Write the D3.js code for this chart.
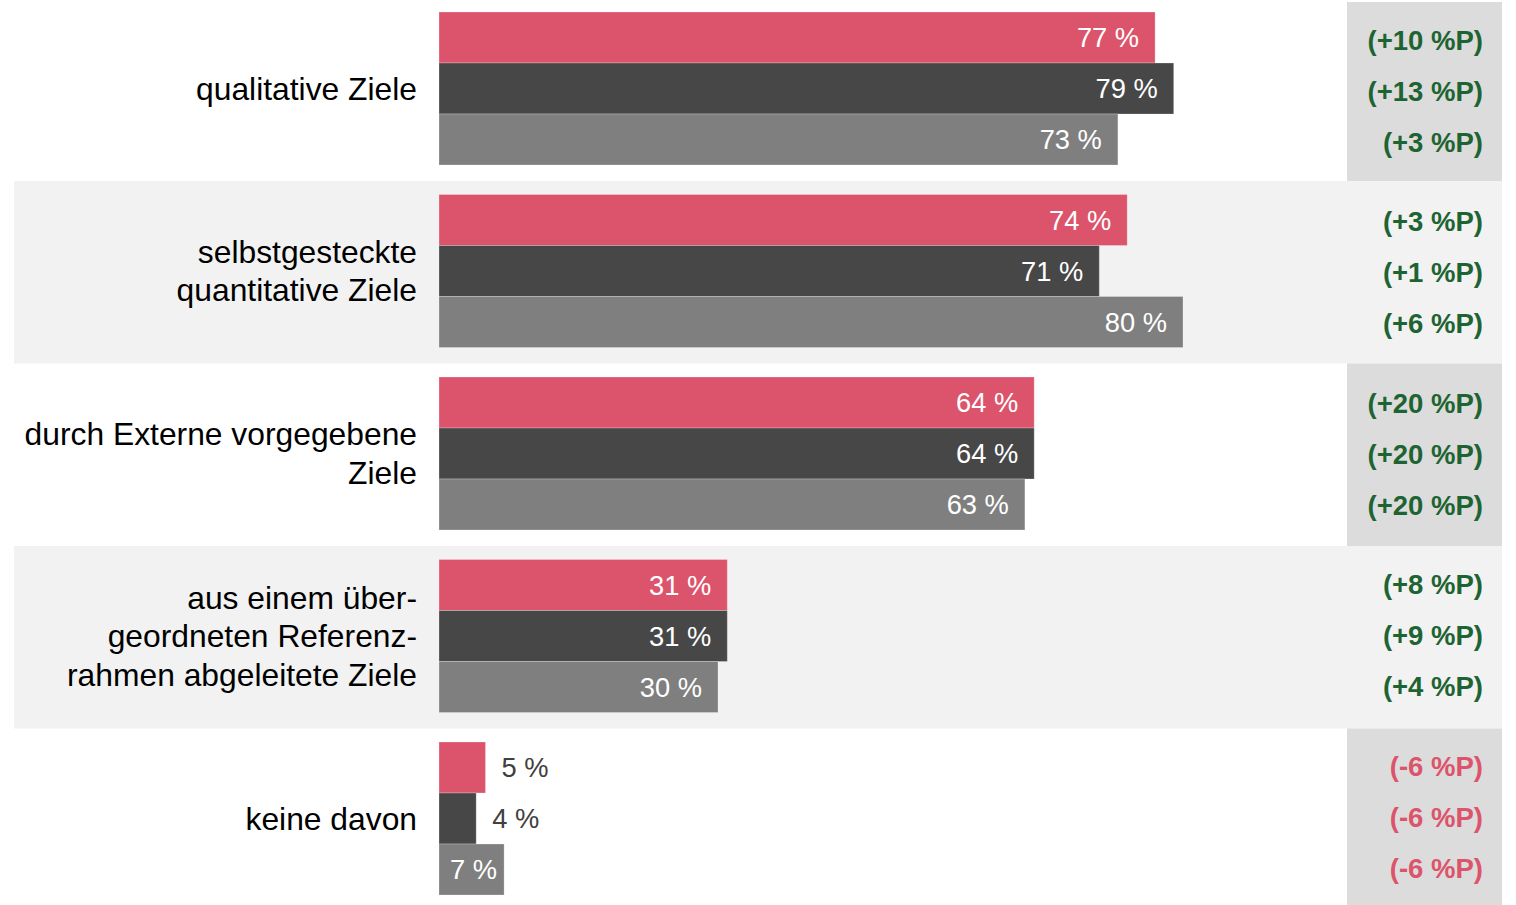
<!DOCTYPE html>
<html lang="de">
<head>
    <meta charset="UTF-8">
    <title>Ziele</title>
    <script src="https://cdnjs.cloudflare.com/ajax/libs/d3/7.8.5/d3.min.js"></script>
    <style>
        body {
            margin: 0;
            background: #fff;
            font-family: "Liberation Sans", Arial, sans-serif;
            overflow: hidden;
        }
        svg { display: block; }
    </style>
</head>
<body>
    <svg id="chart"></svg>

    <script>
        // categories (line breaks as in the original)
        const categories = [
            ["qualitative Ziele"],
            ["selbstgesteckte", "quantitative Ziele"],
            ["durch Externe vorgegebene", "Ziele"],
            ["aus einem über-", "geordneten Referenz-", "rahmen abgeleitete Ziele"],
            ["keine davon"]
        ];

        // three series, one bar each per category (values in %)
        const seriesA = [77, 74, 64, 31, 5];
        const seriesB = [79, 71, 64, 31, 4];
        const seriesC = [73, 80, 63, 30, 7];

        // change in percentage points
        const diffA = [10, 3, 20, 8, -6];
        const diffB = [13, 1, 20, 9, -6];
        const diffC = [3, 6, 20, 4, -6];

        const W = 1516, H = 905;
        const colors = ["#dc546b", "#474747", "#7f7f7f"];
        const series = [seriesA, seriesB, seriesC];
        const diffs = [diffA, diffB, diffC];

        const svg = d3.select("#chart").attr("width", W).attr("height", H);

        const idx = d3.range(categories.length);
        const y = d3.scaleBand().domain(idx).range([-1.5, 911]);
        const yInner = d3.scaleBand().domain([0, 1, 2]).range([13.5, 166.5]);
        const x = d3.scaleLinear().domain([0, 100]).range([439, 1369]);

        // alternating background bands
        svg.selectAll(".band")
            .data(idx.filter(i => i % 2 === 1))
            .enter().append("rect")
            .attr("x", 14).attr("width", 1502 - 14)
            .attr("y", i => y(i)).attr("height", y.bandwidth())
            .attr("fill", "#f2f2f2");

        // right column boxes for the other rows
        svg.selectAll(".box")
            .data(idx.filter(i => i % 2 === 0))
            .enter().append("rect")
            .attr("x", 1347).attr("width", 1502 - 1347)
            .attr("y", i => Math.max(2, y(i)))
            .attr("height", i => y(i) + y.bandwidth() - Math.max(2, y(i)))
            .attr("fill", "#dcdcdc");

        // category labels
        const lineH = 38.5;
        const cat = svg.selectAll(".cat")
            .data(idx)
            .enter().append("text")
            .attr("text-anchor", "end")
            .attr("font-size", 31.8)
            .attr("fill", "#000");
        cat.each(function (i) {
            const lines = categories[i];
            const cy = y(i) + (yInner(0) + yInner(2) + yInner.bandwidth()) / 2;
            d3.select(this).selectAll("tspan")
                .data(lines)
                .enter().append("tspan")
                .attr("x", 417)
                .attr("y", (d, k) => cy + (k - (lines.length - 1) / 2) * lineH)
                .attr("dy", "0.35em")
                .text(d => d);
        });

        // bars + labels
        const cells = [];
        idx.forEach(i => series.forEach((s, j) => cells.push({ i, j, v: s[i], d: diffs[j][i] })));

        const g = svg.append("g");
        g.selectAll("rect")
            .data(cells)
            .enter().append("rect")
            .attr("x", x(0))
            .attr("y", c => y(c.i) + yInner(c.j))
            .attr("width", c => x(c.v) - x(0))
            .attr("height", yInner.bandwidth())
            .attr("fill", c => colors[c.j])
            .attr("stroke", "rgba(255,255,255,0.25)")
            .attr("stroke-width", 1);

        const labels = g.selectAll(".val")
            .data(cells)
            .enter().append("text")
            .attr("font-size", 27.3)
            .attr("y", c => y(c.i) + yInner(c.j) + yInner.bandwidth() / 2)
            .attr("dy", "0.35em")
            .text(c => c.v + " %");

        labels.each(function (c) {
            const t = d3.select(this);
            const tw = this.getComputedTextLength();
            const bw = x(c.v) - x(0);
            if (bw >= tw + 32) {
                t.attr("x", x(c.v) - 16).attr("text-anchor", "end").attr("fill", "#fff");
            } else if (bw >= tw + 12) {
                t.attr("x", x(0) + bw / 2 + 2).attr("text-anchor", "middle").attr("fill", "#fff");
            } else {
                t.attr("x", x(c.v) + 16).attr("text-anchor", "start").attr("fill", "#404040");
            }
        });

        // differences in percentage points (right column sits ~2px low at top, ~1px high at bottom)
        g.selectAll(".diff")
            .data(cells)
            .enter().append("text")
            .attr("x", 1483)
            .attr("y", c => y(c.i) + yInner(c.j) + yInner.bandwidth() / 2 + 2.5 - c.i)
            .attr("dy", "0.35em")
            .attr("text-anchor", "end")
            .attr("font-size", 27.5)
            .attr("font-weight", "bold")
            .attr("fill", c => c.d >= 0 ? "#1e6432" : "#dc546b")
            .text(c => "(" + (c.d >= 0 ? "+" : "") + c.d + " %P)");
    </script>
</body>
</html>
